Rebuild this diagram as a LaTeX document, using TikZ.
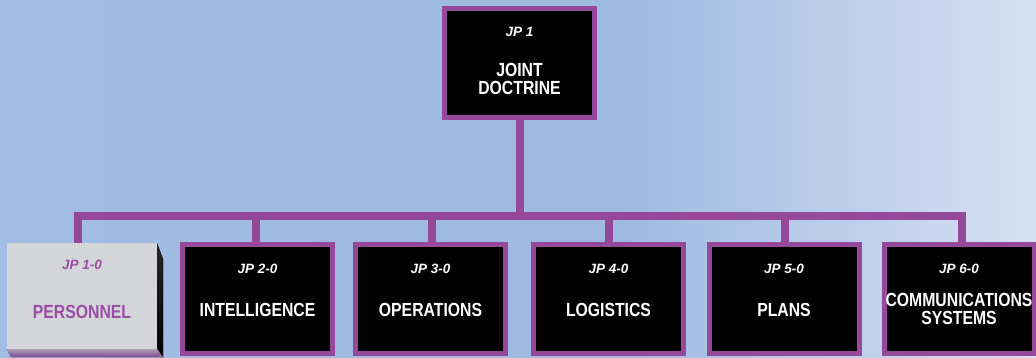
\documentclass[tikz,border=0pt]{standalone}
\usepackage{fontspec}
\setmainfont{Liberation Sans}
\usetikzlibrary{calc}
\definecolor{jpurple}{RGB}{150,72,155}
\definecolor{ptext}{RGB}{155,78,165}
\definecolor{pgrey}{RGB}{212,213,216}
\definecolor{bgA}{RGB}{162,189,226}
\definecolor{bgB}{RGB}{158,186,225}
\definecolor{bgC}{RGB}{214,224,242}
\pgfdeclarehorizontalshading{bgshade}{100bp}{color(0bp)=(bgA); color(25bp)=(bgA); color(55bp)=(bgB); color(75bp)=(bgC); color(100bp)=(bgC)}
\newcommand\cond[1]{\scalebox{0.83}[1]{#1}}
\begin{document}
\begin{tikzpicture}[x=1pt,y=-1pt,
  box/.style={draw=jpurple, line width=5pt, fill=black, minimum width=150pt, minimum height=109pt, inner sep=0pt, outer sep=0pt},
  pbox/.style={fill=pgrey, minimum width=150pt, minimum height=106pt, inner sep=0pt, outer sep=0pt},
  conn/.style={draw=jpurple, line width=8pt},
  jp/.style={text=white, font=\fontsize{13.5}{15}\selectfont\bfseries\itshape},
  mainlbl/.style={text=white, font=\fontsize{19}{18}\selectfont\bfseries, align=center}]
\useasboundingbox (0,0) rectangle (1036,358);
\shade[shading=bgshade] (0,0) rectangle (1036,358);

% boxes
\node[box] (top) at (519.5,63) {};
\node[pbox] (b1) at (82,296) {};
\node[box] (b2) at (257.5,299) {};
\node[box] (b3) at (430.5,299) {};
\node[box] (b4) at (608.5,299) {};
\node[box] (b5) at (784,299) {};
\node[box] (b6) at (959,299) {};

% 3D faces of the personnel box
\fill[top color={rgb,255:red,40;green,40;blue,40}, bottom color=black]
  (b1.north east) -- ++(6,16) -- ($(b1.south east)+(6,8)$) -- (b1.south east) -- cycle;
\fill[top color={rgb,255:red,175;green,160;blue,185}, bottom color={rgb,255:red,125;green,75;blue,145}]
  (b1.south west) -- (b1.south east) -- ($(b1.south east)+(6,8)$) -- ($(b1.south west)+(4,8)$) -- cycle;

% connectors
\coordinate (bus) at (519.5,216);
\draw[conn] (top.south) -- (bus);
\draw[conn] (bus) -| ([xshift=-4pt]b1.north);
\draw[conn] (bus) -| ([xshift=-1.5pt]b2.north);
\draw[conn] (bus) -| ([xshift=1pt]b3.north);
\draw[conn] (bus) -| ([xshift=0.5pt]b4.north);
\draw[conn] (bus) -| ([xshift=1pt]b5.north);
\draw[conn] (bus) -| ([xshift=3pt]b6.north);

% labels
\node[jp] (t1) at ($(top.center)+(0,-31)$) {JP 1};
\node[mainlbl] (t2) at ($(top.center)+(0,16)$) {\cond{JOINT}\\\cond{DOCTRINE}};

\node[jp, text=ptext] (l1a) at ($(b1.center)+(0,-31)$) {JP 1-0};
\node[mainlbl, text=ptext] (l1b) at ($(b1.center)+(0,16)$) {\cond{PERSONNEL}};

\node[jp] (l2a) at ($(b2.center)+(0,-30)$) {JP 2-0};
\node[mainlbl] (l2b) at ($(b2.center)+(0,11)$) {\cond{INTELLIGENCE}};

\node[jp] (l3a) at ($(b3.center)+(0,-30)$) {JP 3-0};
\node[mainlbl] (l3b) at ($(b3.center)+(0,11)$) {\cond{OPERATIONS}};

\node[jp] (l4a) at ($(b4.center)+(0,-30)$) {JP 4-0};
\node[mainlbl] (l4b) at ($(b4.center)+(0,11)$) {\cond{LOGISTICS}};

\node[jp] (l5a) at ($(b5.center)+(0,-30)$) {JP 5-0};
\node[mainlbl] (l5b) at ($(b5.center)+(0,11)$) {\cond{PLANS}};

\node[jp] (l6a) at ($(b6.center)+(0,-30)$) {JP 6-0};
\node[mainlbl] (l6b) at ($(b6.center)+(0,10)$) {\cond{COMMUNICATIONS}\\\cond{SYSTEMS}};
\end{tikzpicture}
\end{document}
